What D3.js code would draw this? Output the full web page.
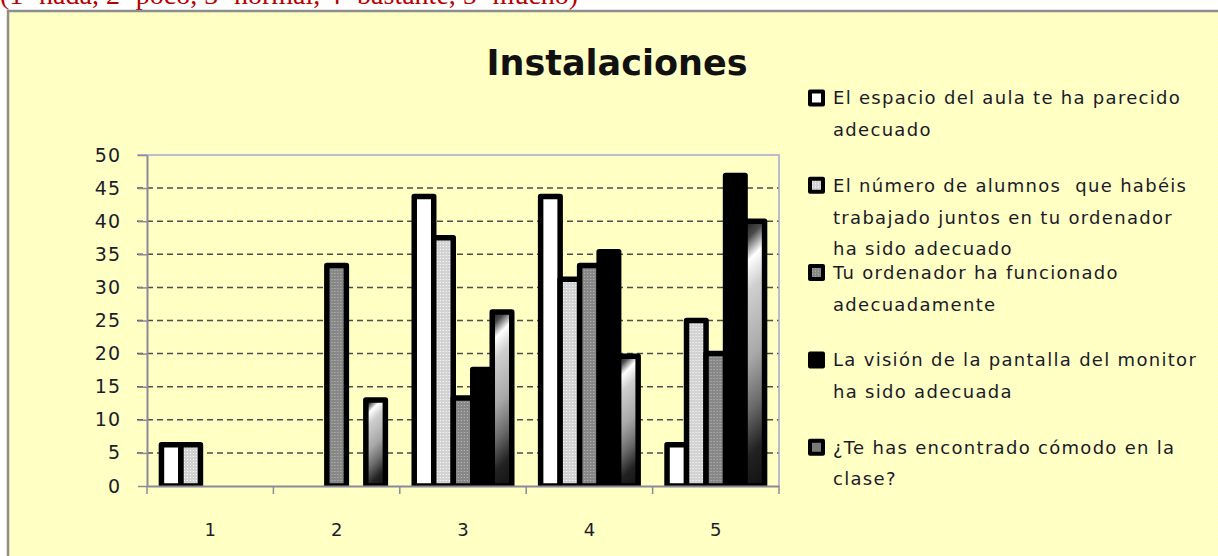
<!DOCTYPE html>
<html>
<head>
<meta charset="utf-8">
<script src="https://cdn.jsdelivr.net/npm/d3@7"></script>
<style>
  body { margin: 0; background: #fff; }
  svg { display: block; }
  text { white-space: pre; }
</style>
</head>
<body>
<div id="chart"></div>
<script>
// Data
const categories = ["1", "2", "3", "4", "5"];
const seriesKeys = ["espacio", "alumnos", "ordenador", "pantalla", "comodo"];
const espacio = [6.25, 0, 43.75, 43.75, 6.25];
const alumnos = [6.25, 0, 37.5, 31.25, 25];
const ordenador = [0, 33.3, 13.3, 33.3, 20];
const pantalla = [0, 0, 17.6, 35.4, 46.9];
const comodo = [0, 13, 26.3, 19.6, 40];
const legendLabels = [
  ["El espacio del aula te ha parecido", "adecuado"],
  ["El número de alumnos  que habéis", "trabajado juntos en tu ordenador", "ha sido adecuado"],
  ["Tu ordenador ha funcionado", "adecuadamente"],
  ["La visión de la pantalla del monitor", "ha sido adecuada"],
  ["¿Te has encontrado cómodo en la", "clase?"],
];
const yTicks = [0, 5, 10, 15, 20, 25, 30, 35, 40, 45, 50];
const title = "Instalaciones";
const note = "(1=nada, 2=poco, 3=normal, 4=bastante, 5=mucho)";

const seriesValues = [espacio, alumnos, ordenador, pantalla, comodo];
const rows = categories.map((c, i) => ({
  cat: c,
  vals: seriesKeys.map((k, s) => ({ key: k, s: s, i: i, v: seriesValues[s][i] })),
}));

function draw() {
  // Dimensions
  let dimensions = {
    width: 1218,
    height: 556,
    plotLeft: 147,
    plotTop: 155,
    plotRight: 779,
    plotBottom: 486,
  };
  dimensions.ctrWidth = dimensions.plotRight - dimensions.plotLeft;
  dimensions.ctrHeight = dimensions.plotBottom - dimensions.plotTop;

  const svg = d3
    .select("#chart")
    .append("svg")
    .attr("width", dimensions.width)
    .attr("height", dimensions.height);

  const defs = svg.append("defs");

  // background dither
  const bg = defs.append("pattern").attr("id", "bgDots")
    .attr("patternUnits", "userSpaceOnUse").attr("width", 4).attr("height", 4);
  bg.append("rect").attr("width", 4).attr("height", 4).attr("fill", "#ffffbe");
  bg.append("rect").attr("x", 0).attr("y", 0).attr("width", 1).attr("height", 1).attr("fill", "#ffffec");
  bg.append("rect").attr("x", 2).attr("y", 2).attr("width", 1).attr("height", 1).attr("fill", "#ffffec");

  const light = defs.append("pattern").attr("id", "lightDots")
    .attr("patternUnits", "userSpaceOnUse").attr("width", 3).attr("height", 3);
  light.append("rect").attr("width", 3).attr("height", 3).attr("fill", "#d2d2d2");
  light.append("rect").attr("x", 1).attr("y", 1).attr("width", 1).attr("height", 1).attr("fill", "#ffffff");

  const gray = defs.append("pattern").attr("id", "grayDots")
    .attr("patternUnits", "userSpaceOnUse").attr("width", 3).attr("height", 3);
  gray.append("rect").attr("width", 3).attr("height", 3).attr("fill", "#878787");
  gray.append("rect").attr("x", 1).attr("y", 1).attr("width", 1).attr("height", 1).attr("fill", "#bcbcbc");

  const fills = ["#ffffff", "url(#lightDots)", "url(#grayDots)", "#000000", "#7a7a7a"];
  const stripeStops = [
    ["0", "#1a1a1a"], ["0.07", "#4a4a4a"], ["0.15", "#ffffff"], ["0.26", "#cfcfcf"],
    ["0.5", "#a8a8a8"], ["0.68", "#6a6a6a"], ["0.84", "#222222"], ["1", "#111111"],
  ];

  // Top note (cut off by the page edge, as in the original)
  svg.append("text")
    .attr("x", 0).attr("y", 4)
    .attr("font-family", "Liberation Serif, serif")
    .attr("font-size", 28)
    .attr("fill", "#b80000")
    .text(note);

  // Chart area
  svg.append("rect")
    .attr("x", 8).attr("y", 11)
    .attr("width", dimensions.width).attr("height", dimensions.height)
    .attr("fill", "url(#bgDots)")
    .attr("stroke", "#8e8e8e")
    .attr("stroke-width", 2.5);

  svg.append("text")
    .attr("x", 617).attr("y", 75)
    .attr("text-anchor", "middle")
    .attr("font-family", "DejaVu Sans, sans-serif")
    .attr("font-weight", "bold")
    .attr("font-size", 35)
    .attr("fill", "#111")
    .text(title);

  const ctr = svg.append("g")
    .attr("transform", `translate(${dimensions.plotLeft}, ${dimensions.plotTop})`);

  // Scales
  const yScale = d3.scaleLinear().domain([0, 50]).range([dimensions.ctrHeight, 0]);
  const x0 = d3.scaleBand().domain(categories).range([0, dimensions.ctrWidth]).padding(0);
  const x1 = d3.scaleBand().domain(seriesKeys).range([0, x0.bandwidth()])
    .paddingInner(0).paddingOuter(0.74);

  // diagonal shaded gradient, one per striped bar (in the bar's own coordinates)
  comodo.forEach((v, i) => {
    if (v <= 0) return;
    const bx = x1("comodo");
    const top = yScale(v);
    const w = x1.bandwidth();
    const h = yScale(0) - top;
    const span = (w + h) / 2;
    const g = defs.append("linearGradient")
      .attr("id", `stripe-${i}`)
      .attr("gradientUnits", "userSpaceOnUse")
      .attr("x1", bx).attr("y1", top)
      .attr("x2", bx + span).attr("y2", top + span);
    stripeStops.forEach(([o, c]) => g.append("stop").attr("offset", o).attr("stop-color", c));
  });
  const barFill = (d) => (d.s === 4 ? `url(#stripe-${d.i})` : fills[d.s]);

  // Gridlines
  ctr.append("g")
    .selectAll("line")
    .data(yTicks.filter((t) => t > 0 && t < 50))
    .join("line")
    .attr("x1", -10).attr("x2", dimensions.ctrWidth)
    .attr("y1", (d) => yScale(d)).attr("y2", (d) => yScale(d))
    .attr("stroke", "#4e4e4e")
    .attr("stroke-width", 1.5)
    .attr("stroke-dasharray", "6,4");

  // plot border top / right
  ctr.append("path")
    .attr("d", `M-10,${yScale(50)}H${dimensions.ctrWidth}V${yScale(0)}`)
    .attr("fill", "none")
    .attr("stroke", "#a4a8d8")
    .attr("stroke-width", 1.5);

  // Bars
  defs.append("clipPath").attr("id", "barClip")
    .append("rect").attr("x", -5).attr("y", -30)
    .attr("width", dimensions.ctrWidth + 10).attr("height", yScale(0) + 30);

  ctr.append("g")
    .attr("clip-path", "url(#barClip)")
    .selectAll("g")
    .data(rows)
    .join("g")
    .attr("transform", (d) => `translate(${x0(d.cat)},0)`)
    .selectAll("rect")
    .data((d) => d.vals.filter((e) => e.v > 0))
    .join("rect")
    .attr("x", (d) => x1(d.key))
    .attr("y", (d) => yScale(d.v))
    .attr("width", x1.bandwidth())
    .attr("height", (d) => yScale(0) - yScale(d.v))
    .attr("fill", barFill)
    .attr("stroke", "#000")
    .attr("stroke-width", 5.5)
    .attr("stroke-linejoin", "round");

  // Axes
  const yAxis = d3.axisLeft(yScale).tickValues(yTicks).tickSize(9).tickPadding(17).tickSizeOuter(0);
  const yAxisG = ctr.append("g").call(yAxis);
  yAxisG.select(".domain").attr("stroke", "#8a8a9a").attr("stroke-width", 2);
  yAxisG.selectAll(".tick line").attr("stroke", "#8a8a9a").attr("stroke-width", 1.5);
  yAxisG.selectAll("text")
    .attr("font-family", "DejaVu Sans, sans-serif")
    .attr("font-size", 19)
    .attr("letter-spacing", 1)
    .attr("fill", "#1c1c2c");

  const xAxis = d3.axisBottom(x0).tickSize(0).tickPadding(37).tickSizeOuter(0);
  const xAxisG = ctr.append("g")
    .attr("transform", `translate(0, ${dimensions.ctrHeight})`)
    .call(xAxis);
  xAxisG.select(".domain").attr("stroke", "#8a8a9a").attr("stroke-width", 2);
  xAxisG.selectAll("text")
    .attr("font-family", "DejaVu Sans, sans-serif")
    .attr("font-size", 18)
    .attr("fill", "#1c1c2c");

  const bounds = categories.map((c) => x0(c)).concat([x0.range()[1]]);
  xAxisG.selectAll(".bound")
    .data(bounds)
    .join("line")
    .attr("class", "bound")
    .attr("x1", (d) => d).attr("x2", (d) => d)
    .attr("y1", 0).attr("y2", 8)
    .attr("stroke", "#8a8a9a")
    .attr("stroke-width", 1.5);

  // Legend
  const legend = svg.append("g").attr("transform", "translate(808, 98)");
  const items = legend.selectAll("g")
    .data(legendLabels)
    .join("g")
    .attr("transform", (d, i) => `translate(0, ${i * 87.3})`);

  items.append("rect")
    .attr("x", 2).attr("y", -6.5)
    .attr("width", 13).attr("height", 13)
    .attr("fill", (d, i) => fills[i])
    .attr("stroke", "#000")
    .attr("stroke-width", 4)
    .attr("stroke-linejoin", "round");

  items.selectAll("text")
    .data((d) => d)
    .join("text")
    .attr("x", 25)
    .attr("y", (d, j) => j * 31.8)
    .attr("dy", "0.36em")
    .attr("font-family", "DejaVu Sans, sans-serif")
    .attr("font-size", 18)
    .attr("letter-spacing", 1.3)
    .attr("fill", "#1a1a2a")
    .text((d) => d);
}

draw();
</script>
</body>
</html>
